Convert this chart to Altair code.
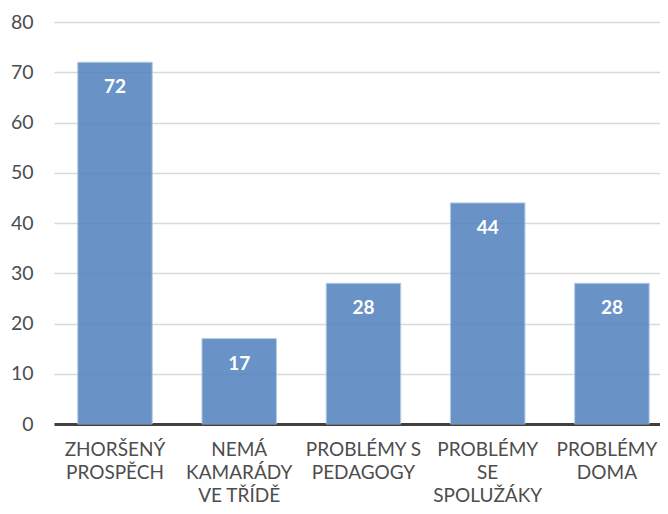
import altair as alt
import pandas as pd

categories = [
    "ZHORŠENÝ\nPROSPĚCH",
    "NEMÁ\nKAMARÁDY\nVE TŘÍDĚ",
    "PROBLÉMY S\nPEDAGOGY",
    "PROBLÉMY\nSE\nSPOLUŽÁKY",
    "PROBLÉMY\nDOMA",
]
values = [72, 17, 28, 44, 28]
y_ticks = [0, 10, 20, 30, 40, 50, 60, 70, 80]

df = pd.DataFrame({"cat": categories, "val": values})

FONT = "Lato"
TXT = "#4d4d4d"

x_enc = alt.X(
    "cat:N",
    sort=categories,
    title=None,
    scale=alt.Scale(paddingInner=0.4, paddingOuter=0.139, align=0.687),
    axis=alt.Axis(
        labelExpr="split(datum.label, '\\n')",
        labelAngle=0,
        labelFont=FONT,
        labelFontSize=19,
        labelColor=TXT,
        labelLineHeight=23,
        labelPadding=16,
        labelOffset={
            "condition": {"test": "indexof(datum.value, 'DOMA') >= 0", "value": -5},
            "value": 0,
        },
        labelOverlap=False,
        labelLimit=0,
        ticks=False,
        domain=True,
        domainColor="#404040",
        domainWidth=3,
        grid=False,
    ),
)

y_enc = alt.Y(
    "val:Q",
    title=None,
    scale=alt.Scale(domain=[0, 80], nice=False, zero=True),
    axis=alt.Axis(
        values=y_ticks,
        labelFont=FONT,
        labelFontSize=19.5,
        labelColor=TXT,
        labelPadding=21,
        ticks=False,
        domain=False,
        grid=True,
        gridColor="#d9d9d9",
        gridWidth=1.5,
    ),
)

bars = alt.Chart(df).mark_bar(
    color="#4F81BD", opacity=0.85, stroke="#a9c4e4", strokeWidth=1
).encode(x=x_enc, y=y_enc)

labels = alt.Chart(df).mark_text(
    color="white", font=FONT, fontSize=19, fontWeight="bold",
    baseline="middle", dy=25
).encode(x=alt.X("cat:N", sort=categories), y=alt.Y("val:Q"), text=alt.Text("val:Q"))

chart = alt.layer(bars, labels).properties(
    width=606,
    height=402,
    autosize=alt.AutoSizeParams(type="none"),
    padding={"left": 46, "top": 14, "right": 0, "bottom": 82},
).configure_view(stroke=None)

chart.save("out.html", embed_options={"renderer": "svg", "actions": False})
